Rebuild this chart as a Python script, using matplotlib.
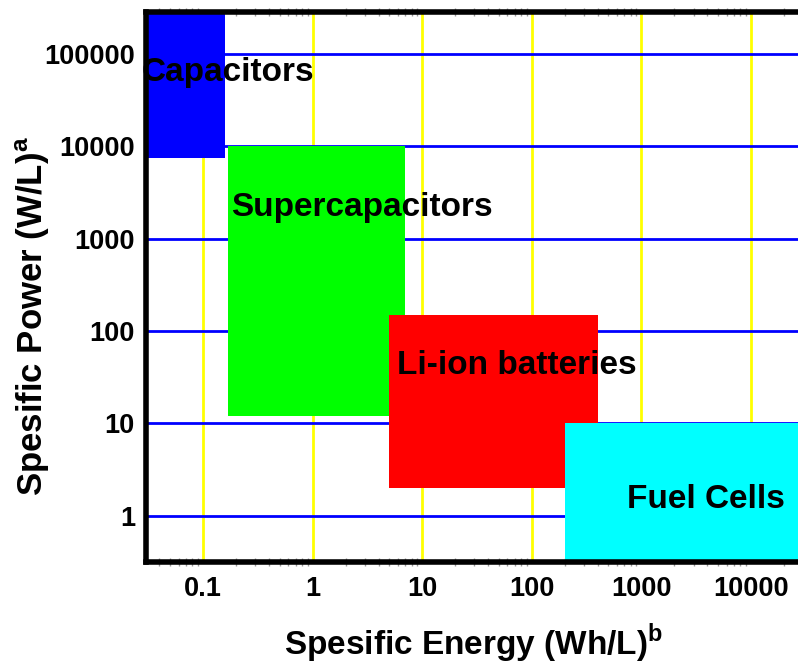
import matplotlib.pyplot as plt
from matplotlib.patches import Rectangle
from matplotlib.ticker import FixedLocator, LogLocator, NullFormatter

plt.rcParams['font.family'] = ['Liberation Sans', 'DejaVu Sans']
plt.rcParams['font.weight'] = 'bold'
plt.rcParams['mathtext.fontset'] = 'custom'
plt.rcParams['mathtext.rm'] = 'Liberation Sans:bold'
plt.rcParams['mathtext.bf'] = 'Liberation Sans:bold'

# Ragone-style regions (energy in Wh/L, power in W/L)
names = ['Capacitors', 'Supercapacitors', 'Li-ion batteries', 'Fuel Cells']
energy_lo = [0.03, 0.17, 5, 200]
energy_hi = [0.16, 7, 400, 30000]
power_lo = [7500, 12, 2, 0.3]
power_hi = [300000, 10000, 150, 10]
colors = ['#0000ff', '#00ff00', '#ff0000', '#00ffff']

# label anchor points
label_x = [0.17, 2.8, 73, 3850]
label_y = [62000, 2180, 42, 1.49]

x_ticks = [0.1, 1, 10, 100, 1000, 10000]
x_tick_labels = ['0.1', '1', '10', '100', '1000', '10000']
y_ticks = [1, 10, 100, 1000, 10000, 100000]
y_tick_labels = ['1', '10', '100', '1000', '10000', '100000']

fig = plt.figure(figsize=(7.98, 6.66), dpi=100)
ax = fig.add_axes([0.183, 0.156, 0.817, 0.826])
ax.set_xscale('log')
ax.set_yscale('log')
ax.set_xlim(10 ** -1.52, 10 ** 4.43)
ax.set_ylim(10 ** -0.5, 10 ** 5.45)

# grid lines behind the regions
for xv in x_ticks:
    ax.axvline(xv, color='#ffff00', lw=2, zorder=1)
for yv in y_ticks:
    ax.axhline(yv, color='#0000ff', lw=2, zorder=1)

for i in range(len(names)):
    ax.add_patch(Rectangle((energy_lo[i], power_lo[i]),
                           energy_hi[i] - energy_lo[i],
                           power_hi[i] - power_lo[i],
                           facecolor=colors[i], edgecolor='none', zorder=2))
    ax.text(label_x[i], label_y[i], names[i], fontsize=24, fontweight='bold',
            ha='center', va='center', zorder=3, clip_on=False)

ax.xaxis.set_major_locator(FixedLocator(x_ticks))
ax.set_xticklabels(x_tick_labels)
ax.yaxis.set_major_locator(FixedLocator(y_ticks))
ax.set_yticklabels(y_tick_labels)
ax.xaxis.set_minor_locator(LogLocator(base=10, subs=range(2, 10), numticks=20))
ax.xaxis.set_minor_formatter(NullFormatter())
ax.yaxis.set_minor_locator(FixedLocator([]))
ax.tick_params(axis='both', which='major', length=0, labelsize=19.5)
ax.tick_params(axis='x', which='major', pad=10)
ax.tick_params(axis='y', which='major', pad=8)
ax.tick_params(axis='x', which='minor', top=True, bottom=True, direction='inout',
               length=6, width=1, color='#999999')

for side in ['left', 'bottom', 'top']:
    ax.spines[side].set_linewidth(4)
    ax.spines[side].set_zorder(4)
ax.spines['right'].set_visible(False)

ax.set_xlabel(r'Spesific Energy (Wh/L)$^{\mathrm{b}}$', fontsize=24,
              fontweight='bold', va='center')
ax.xaxis.set_label_coords(0.503, -0.148)
ax.set_ylabel(r'Spesific Power (W/L)$^{\mathrm{a}}$', fontsize=25,
              fontweight='bold', va='center')
ax.yaxis.set_label_coords(-0.174, 0.447)

fig.savefig('out.png', dpi=100)
